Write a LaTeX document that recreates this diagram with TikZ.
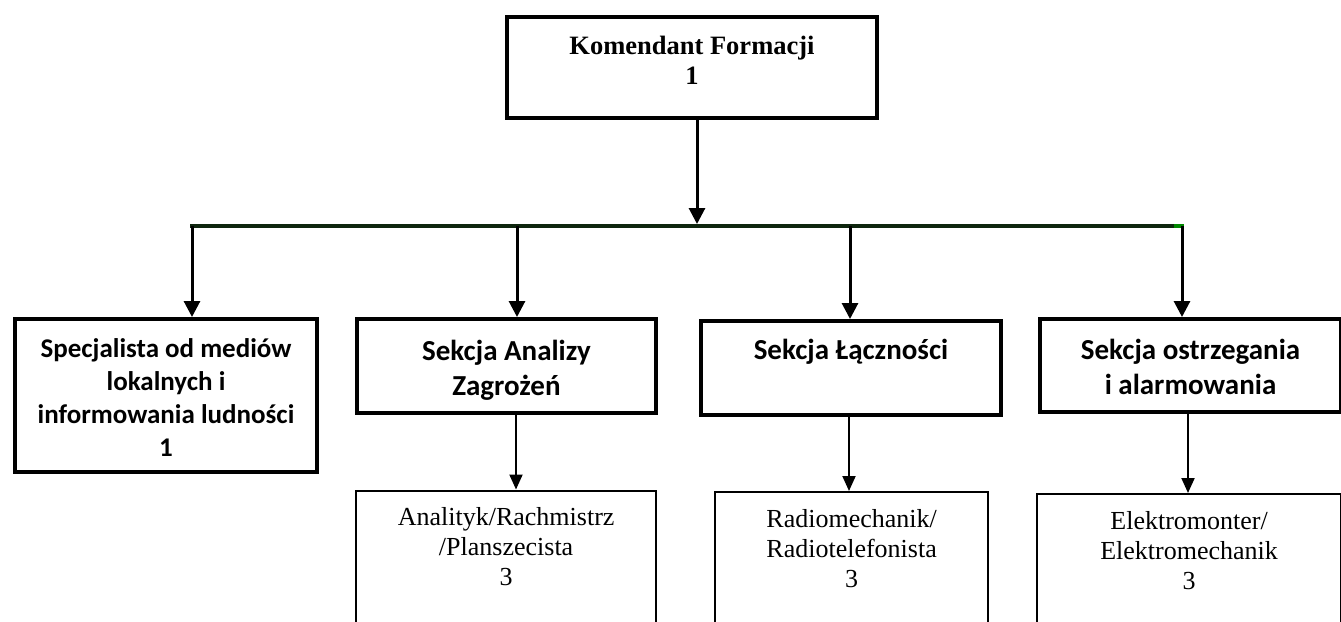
\documentclass[tikz,border=0pt]{standalone}
\usepackage{fontspec}
\setmainfont{Liberation Serif}
\newfontfamily\calib{Carlito}
\usetikzlibrary{arrows.meta}
\definecolor{busgreen}{RGB}{14,38,14}
\definecolor{endgreen}{RGB}{0,135,0}
\newcommand{\boxtxt}[5]{\parbox[c][#2][t]{#1}{#3\vspace*{#4}\centering\strut #5}}
\begin{document}
\begin{tikzpicture}[x=1pt,y=-1pt,
  thickbox/.style={draw, line width=4pt, inner sep=0pt, rectangle, anchor=north west},
  thinbox/.style={draw, line width=2.2pt, inner sep=0pt, rectangle, anchor=north west},
  conn/.style={line width=3pt, -{Triangle[width=16pt,length=16pt]}},
  subconn/.style={line width=2pt, -{Triangle[width=13pt,length=15pt]}},
  bus/.style={line width=4pt, draw=busgreen},
  headfont/.style={},
]
\clip (0,0) rectangle (1341,621);
\fill[white] (0,0) rectangle (1341,621);

% top box
\node[thickbox] (top) at (505,15)
  {\boxtxt{370pt}{101pt}{\fontsize{26.5}{30}\selectfont\bfseries}{16pt}{Komendant Formacji\\1}};

% second level
\node[thickbox] (b1) at (13,317)
  {\boxtxt{302pt}{153pt}{\calib\fontsize{27}{33}\selectfont\bfseries}{15pt}{Specjalista od mediów\\lokalnych i\\informowania ludności\\1}};
\node[thickbox] (b2) at (355,317)
  {\boxtxt{299pt}{94pt}{\calib\fontsize{29}{35}\selectfont\bfseries}{17pt}{Sekcja Analizy\\Zagrożeń}};
\node[thickbox] (b3) at (699,319)
  {\boxtxt{300pt}{94pt}{\calib\fontsize{29}{35}\selectfont\bfseries}{14pt}{Sekcja Łączności}};
\node[thickbox] (b4) at (1038,317)
  {\boxtxt{301pt}{93pt}{\calib\fontsize{29}{35}\selectfont\bfseries}{16pt}{Sekcja ostrzegania\\i alarmowania}};

% third level
\node[thinbox] (ba) at (355,489.5)
  {\boxtxt{300pt}{160pt}{\fontsize{26}{30}\selectfont}{13.5pt}{Analityk/Rachmistrz\\/Planszecista\\3}};
\node[thinbox] (bb) at (714,491)
  {\boxtxt{273pt}{160pt}{\fontsize{26}{30}\selectfont}{14pt}{Radiomechanik/\\Radiotelefonista\\3}};
\node[thinbox] (bc) at (1036,493)
  {\boxtxt{304pt}{160pt}{\fontsize{26}{30}\selectfont}{14pt}{Elektromonter/\\Elektromechanik\\3}};

% bus
\coordinate (hl) at (190,226);
\coordinate (hm) at (1174,226);
\coordinate (hr) at (1184,226);
\coordinate (t0) at (697,224);
\coordinate (d1) at (192,226);
\coordinate (d2) at (517,226);
\coordinate (d3) at (850,226);
\coordinate (d4) at (1182,226);

\draw[bus] (hl) -- (hm);
\draw[line width=4pt, draw=endgreen] (hm) -- (hr);

\draw[conn] (top.south -| t0) -- (t0);
\draw[conn] (d1) -- (d1 |- b1.north);
\draw[conn] (d2) -- (d2 |- b2.north);
\draw[conn] (d3) -- (d3 |- b3.north);
\draw[conn] (d4) -- (d4 |- b4.north);

\draw[subconn] ([xshift=9.5pt]b2.south) -- ([xshift=9.5pt]b2.south |- ba.north);
\draw[subconn] ([xshift=-2pt]b3.south) -- ([xshift=-2pt]b3.south |- bb.north);
\draw[subconn] ([xshift=-2.5pt]b4.south) -- ([xshift=-2.5pt]b4.south |- bc.north);
\end{tikzpicture}
\end{document}
